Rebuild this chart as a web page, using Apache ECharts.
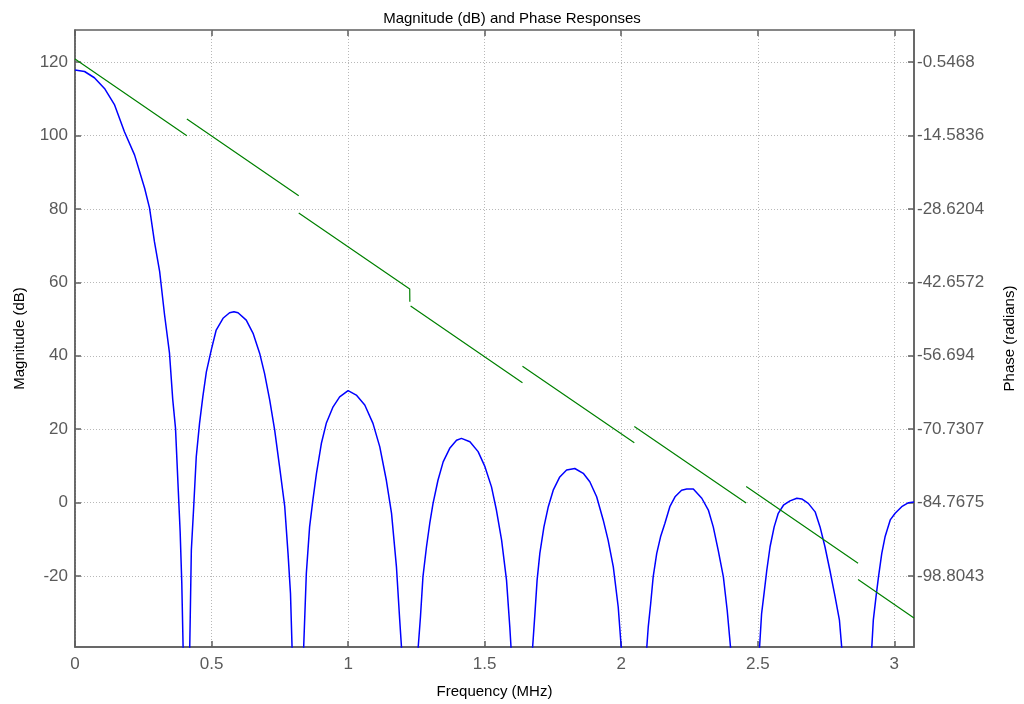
<!DOCTYPE html>
<html>
<head>
<meta charset="utf-8">
<script src="https://cdn.jsdelivr.net/npm/echarts@6/dist/echarts.min.js"></script>
<style>
html,body{margin:0;padding:0;background:#fff;}
#chart{width:1024px;height:704px;}
</style>
</head>
<body>
<div id="chart"></div>
<script>
// ---- Data ----
const magFreq = [
  0, 0.035, 0.071, 0.108, 0.145, 0.181, 0.218, 0.255, 0.273, 0.291, 0.310, 0.328, 0.346, 0.358, 0.368, 0.377, 0.385, 0.391, 0.396, 0.4096,
  0.420, 0.426, 0.434, 0.444, 0.456, 0.468, 0.481, 0.499, 0.517, 0.542, 0.566, 0.582, 0.597, 0.627, 0.652, 0.676, 0.694, 0.713, 0.731, 0.749, 0.768, 0.780, 0.789, 0.795, 0.8192,
  0.837, 0.847, 0.859, 0.871, 0.884, 0.902, 0.920, 0.945, 0.969, 1.000, 1.030, 1.061, 1.091, 1.116, 1.140, 1.159, 1.177, 1.189, 1.196, 1.2288,
  1.256, 1.265, 1.274, 1.287, 1.299, 1.311, 1.329, 1.348, 1.372, 1.397, 1.415, 1.446, 1.476, 1.501, 1.525, 1.543, 1.562, 1.580, 1.592, 1.597, 1.6384,
  1.675, 1.684, 1.692, 1.702, 1.717, 1.733, 1.751, 1.775, 1.800, 1.830, 1.861, 1.885, 1.910, 1.934, 1.952, 1.971, 1.989, 1.998, 2.001, 2.048,
  2.093, 2.099, 2.108, 2.117, 2.130, 2.144, 2.160, 2.178, 2.197, 2.221, 2.240, 2.264, 2.295, 2.319, 2.337, 2.355, 2.374, 2.388, 2.401, 2.4576,
  2.506, 2.514, 2.523, 2.533, 2.545, 2.560, 2.575, 2.594, 2.618, 2.643, 2.661, 2.685, 2.710, 2.728, 2.746, 2.764, 2.783, 2.799, 2.808, 2.8672,
  2.917, 2.923, 2.933, 2.942, 2.954, 2.966, 2.985, 3.003, 3.027, 3.052, 3.072
];
const magDb = [
  117.8, 117.4, 115.7, 112.8, 108.3, 101, 94.7, 85.6, 80.2, 71, 62.9, 51.1, 40.7, 28, 20.3, 5.3, -7.9, -21.9, -40, -80,
  -40, -12.9, -2, 12.5, 21.6, 28.8, 35.6, 41.6, 47, 50.2, 51.7, 52, 51.7, 49.7, 46.1, 40.7, 35.2, 27.9, 19.8, 9.8, -1.1, -13.8, -24.7, -40, -80,
  -40, -19.3, -6.6, 0.7, 7.9, 16.1, 21.6, 26.1, 28.8, 30.5, 29.3, 26.6, 21.6, 15.2, 6.1, -2.9, -17.5, -32, -40, -80,
  -40, -31, -20.2, -12, -5.6, -0.2, 6.1, 11.1, 14.8, 17, 17.5, 16.6, 13.9, 9.8, 4.3, -2, -10.2, -21.1, -33.8, -40, -80,
  -40, -30.2, -21.1, -13.8, -6.6, -1.1, 3.4, 7, 8.9, 9.3, 8, 5.7, 1.6, -4.7, -10.2, -17.5, -28.4, -37.4, -40, -80,
  -40, -33.8, -27.4, -20.2, -13.8, -9.3, -5.6, -1.1, 1.6, 3.4, 3.7, 3.7, 1.2, -2, -6.6, -12.9, -20.2, -29.3, -40, -80,
  -40, -30.2, -24.7, -18.4, -12, -6.6, -2.9, -0.7, 0.5, 1.2, 1.0, -0.2, -2.5, -6.6, -12, -18.4, -25.6, -32, -40, -80,
  -40, -32, -25.6, -20.2, -13.8, -9.3, -4.7, -2.9, -1.1, 0, 0.2
];
// phase: straight segments, null separates them
const phaseFreq = [0, 0.4096, null, 0.4096, 0.8192, null, 0.8192, 1.2256, 1.2260, null, 1.2288, 1.6384, null,
  1.6384, 2.048, null, 2.048, 2.4576, null, 2.4576, 2.8672, null, 2.8672, 3.072];
const phaseRad = [0, -14.64, null, -11.46, -26.10, null, -29.4, -43.93, -46.37, null, -47.19, -61.83, null,
  -58.69, -73.33, null, -70.19, -84.83, null, -81.69, -96.33, null, -99.47, -106.79];

const freqTicks = [0, 0.5, 1, 1.5, 2, 2.5, 3];
const freqTickLabels = ['0', '0.5', '1', '1.5', '2', '2.5', '3'];
const magTicks = [-20, 0, 20, 40, 60, 80, 100, 120];
const phaseTicks = [-98.8043, -84.7675, -70.7307, -56.694, -42.6572, -28.6204, -14.5836, -0.5468];
const phaseTickLabels = ['-98.8043', '-84.7675', '-70.7307', '-56.694', '-42.6572', '-28.6204', '-14.5836', '-0.5468'];

// ---- build ----
const magData = magFreq.map((f, i) => [f, magDb[i]]);
const phaseData = phaseFreq.map((f, i) => f === null ? ['-', '-'] : [f, phaseRad[i]]);
const pickLabel = (vals, labels) => (v) => {
  for (let i = 0; i < vals.length; i++) if (Math.abs(vals[i] - v) < 1e-6) return labels[i];
  return '';
};

const FONT = '"Liberation Sans", Arial, sans-serif';
const labelStyle = { fontFamily: FONT, fontSize: 17, color: '#5a5a5a' };
const axisLineStyle = { color: '#5f5f5f', width: 1.5 };
const gridLine = { show: true, lineStyle: { color: '#b8b8b8', type: [1, 2], width: 1 } };

const chart = echarts.init(document.getElementById('chart'), null, { renderer: 'canvas' });
chart.setOption({
  animation: false,
  backgroundColor: '#ffffff',
  title: {
    text: 'Magnitude (dB) and Phase Responses',
    left: 'center', top: 6,
    textStyle: { fontFamily: FONT, fontSize: 15, fontWeight: 'normal', color: '#000' }
  },
  grid: {
    left: 75, top: 30, right: 110, bottom: 57,
    show: true, borderColor: '#5f5f5f', borderWidth: 1.5,
    containLabel: false, outerBoundsMode: 'none'
  },
  xAxis: [{
    type: 'value', min: 0, max: 3.072, position: 'bottom',
    name: 'Frequency (MHz)', nameLocation: 'middle', nameGap: 37,
    nameTextStyle: { fontFamily: FONT, fontSize: 15, color: '#000' },
    axisLine: { show: true, onZero: false, lineStyle: axisLineStyle },
    axisTick: { show: true, inside: true, length: 6, customValues: freqTicks, lineStyle: axisLineStyle },
    axisLabel: Object.assign({ customValues: freqTicks, margin: 9, formatter: pickLabel(freqTicks, freqTickLabels) }, labelStyle),
    splitLine: gridLine
  }, {
    type: 'value', min: 0, max: 3.072, position: 'top',
    axisLine: { show: false, onZero: false },
    axisTick: { show: true, inside: true, length: 6, customValues: freqTicks, lineStyle: axisLineStyle },
    axisLabel: { show: false },
    splitLine: { show: false }
  }],
  yAxis: [{
    type: 'value', min: -39.3, max: 128.7, position: 'left',
    name: 'Magnitude (dB)', nameLocation: 'middle', nameGap: 48, nameRotate: 90,
    nameTextStyle: { fontFamily: FONT, fontSize: 15, color: '#000' },
    axisLine: { show: true, onZero: false, lineStyle: axisLineStyle },
    axisTick: { show: true, inside: true, length: 6, customValues: magTicks, lineStyle: axisLineStyle },
    axisLabel: Object.assign({ customValues: magTicks, margin: 7, formatter: pickLabel(magTicks, magTicks.map(String)) }, labelStyle),
    splitLine: gridLine
  }, {
    type: 'value', min: -112.3498, max: 5.5592, position: 'right',
    name: 'Phase (radians)', nameLocation: 'middle', nameGap: 88, nameRotate: 90,
    nameTextStyle: { fontFamily: FONT, fontSize: 15, color: '#000' },
    axisLine: { show: true, onZero: false, lineStyle: axisLineStyle },
    axisTick: { show: true, inside: true, length: 6, customValues: phaseTicks, lineStyle: axisLineStyle },
    axisLabel: Object.assign({ customValues: phaseTicks, margin: 3, formatter: pickLabel(phaseTicks, phaseTickLabels) }, labelStyle),
    splitLine: { show: false }
  }],
  series: [{
    name: 'Magnitude', type: 'line', xAxisIndex: 0, yAxisIndex: 0,
    data: magData, showSymbol: false, symbol: 'none', clip: true,
    lineStyle: { color: '#0000ff', width: 1.5 }, z: 3
  }, {
    name: 'Phase', type: 'line', xAxisIndex: 0, yAxisIndex: 1,
    data: phaseData, showSymbol: false, symbol: 'none', clip: true, connectNulls: false,
    lineStyle: { color: '#008000', width: 1.2 }, z: 4
  }]
});
</script>
</body>
</html>
